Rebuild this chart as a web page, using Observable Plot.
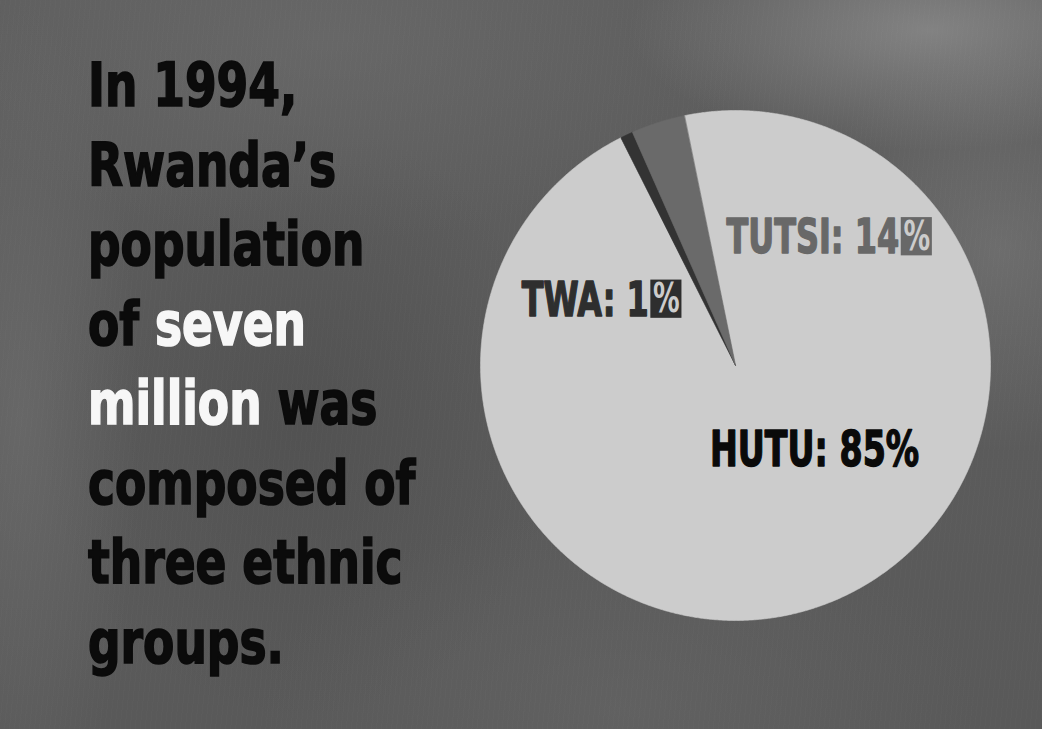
<!DOCTYPE html>
<html><head><meta charset="utf-8">
<script src="https://cdn.jsdelivr.net/npm/d3@7"></script>
<script src="https://cdn.jsdelivr.net/npm/@observablehq/plot@0.6"></script>
<style>
html,body{margin:0;padding:0;background:#5e5e5e;}
#wrap{position:relative;width:1042px;height:729px;overflow:hidden;
  background:
    radial-gradient(ellipse 300px 120px at 930px 30px, rgba(160,160,160,0.55), rgba(160,160,160,0) 100%),
    radial-gradient(ellipse 200px 200px at 1000px 250px, rgba(140,140,140,0.35), rgba(140,140,140,0) 100%),
    radial-gradient(ellipse 420px 200px at 330px 40px, rgba(120,120,120,0.35), rgba(120,120,120,0) 100%),
    radial-gradient(ellipse 120px 420px at 20px 420px, rgba(125,125,125,0.35), rgba(125,125,125,0) 100%),
    radial-gradient(ellipse 360px 200px at 620px 710px, rgba(115,115,115,0.3), rgba(115,115,115,0) 100%),
    radial-gradient(ellipse 260px 300px at 300px 420px, rgba(60,60,60,0.3), rgba(60,60,60,0) 100%),
    linear-gradient(#5e5e5e,#595959);}
#wrap::before{content:"";position:absolute;inset:0;
  background: repeating-linear-gradient(96deg, rgba(255,255,255,0.012) 0 1px, transparent 1px 5px);}
#chart{position:absolute;left:0;top:0;}
#intro{position:absolute;left:88px;top:45px;margin:0;transform:scaleX(0.83);transform-origin:0 0;
  font-family:"Liberation Sans Narrow","DejaVu Sans Condensed",sans-serif;
  font-weight:bold;font-size:61px;line-height:79.5px;color:#0b0b0b;white-space:nowrap;
  -webkit-text-stroke:1.6px #0b0b0b;}
#intro .hl{color:#f7f7f7;-webkit-text-stroke:1.6px #f7f7f7;}
</style></head>
<body>
<div id="wrap">
  <div id="chart"></div>
  <p id="intro">In 1994,<br>Rwanda’s<br>population<br>of <span class="hl">seven</span><br><span class="hl">million</span> was<br>composed of<br>three ethnic<br>groups.</p>
</div>
<script>
// ---- data ----
const groups = ["HUTU", "TWA", "TUTSI"];            // clockwise order in the drawing
const labelPercents = [85, 1, 14];                   // percentages printed on the labels
const drawnShares = [95.8, 0.8, 3.4];                // slice sizes as actually drawn in the picture
const startDegrees = -11.6;                          // where the first (HUTU) slice begins, clockwise from 12 o'clock

// ---- styles / layout (not data) ----
const sliceColor = {HUTU: "#cccccc", TWA: "#333333", TUTSI: "#6a6a6a"};
const labelColor = {HUTU: "#0a0a0a", TWA: "#2e2e2e", TUTSI: "#686868"};
const boxed = {HUTU: false, TWA: true, TUTSI: true};
// label anchor positions in pie-radius units (centre = 0,0; y down)
const labelLayout = {
  HUTU:  {x: -0.10, y: 0.33, anchor: "start"},
  TWA:   {x: -0.340, y: -0.255, anchor: "end"},
  TUTSI: {x: 0.642, y: -0.50, anchor: "end"}
};
const boxW = 0.122, boxH = 0.150;
const cx = 735, cy = 365, R = 255;
const labelSqueeze = 0.74;
const FONT = "'Liberation Sans Narrow','DejaVu Sans Condensed',sans-serif";

const rows = groups.map((g, i) => ({group: g, pct: labelPercents[i], share: drawnShares[i]}));
const a0 = startDegrees * Math.PI / 180;
const arcs = d3.pie().value(d => d.share).sort(null).startAngle(a0).endAngle(a0 + 2 * Math.PI)(rows);

function slicePoints(a) {
  const n = Math.max(2, Math.ceil((a.endAngle - a.startAngle) / 0.005));
  const pts = [{x: 0, y: 0}];
  for (let i = 0; i <= n; i++) {
    const t = a.startAngle + (a.endAngle - a.startAngle) * i / n;
    pts.push({x: Math.sin(t), y: -Math.cos(t)});
  }
  return pts;
}

const labels = rows.map(r => ({
  group: r.group,
  text: boxed[r.group] ? `${r.group}: ${r.pct}` : `${r.group}: ${r.pct}%`,
  x: labelLayout[r.group].x, y: labelLayout[r.group].y, anchor: labelLayout[r.group].anchor
}));
const boxes = labels.filter(l => boxed[l.group]).map(l => ({
  group: l.group, x1: l.x + 0.008, x2: l.x + 0.008 + boxW, y1: l.y - boxH / 2 - 0.005, y2: l.y + boxH / 2 - 0.005
}));

const marks = [
  ...arcs.map(a => Plot.line(slicePoints(a), {
    x: "x", y: "y", curve: "linear-closed",
    fill: sliceColor[a.data.group], stroke: sliceColor[a.data.group], strokeWidth: 0.6
  })),
  Plot.text(labels.filter(l => l.anchor === "start"), {
    x: "x", y: "y", text: "text", textAnchor: "start", lineAnchor: "middle",
    fill: d => labelColor[d.group], stroke: d => labelColor[d.group], strokeWidth: 1.4,
    fontSize: 50, fontWeight: "bold", fontFamily: FONT
  }),
  Plot.text(labels.filter(l => l.anchor === "end"), {
    x: "x", y: "y", text: "text", textAnchor: "end", lineAnchor: "middle",
    fill: d => labelColor[d.group], stroke: d => labelColor[d.group], strokeWidth: 1.4,
    fontSize: 48, fontWeight: "bold", fontFamily: FONT
  }),
  Plot.rect(boxes, {x1: "x1", x2: "x2", y1: "y1", y2: "y2", fill: d => labelColor[d.group]}),
  Plot.text(boxes, {
    x: d => (d.x1 + d.x2) / 2, y: d => (d.y1 + d.y2) / 2, text: () => "%",
    textAnchor: "middle", lineAnchor: "middle", fill: "#cccccc",
    fontSize: 40, fontWeight: "bold", fontFamily: FONT
  })
];

const chart = Plot.plot({
  width: 1042, height: 729, margin: 0,
  x: {domain: [-1, 1], range: [cx - R, cx + R], axis: null},
  y: {domain: [-1, 1], range: [cy - R, cy + R], axis: null},
  color: {type: "identity"},
  style: {background: "transparent", overflow: "visible"},
  marks
});
// condense the label lettering (the original uses a narrow display face)
d3.select(chart).selectAll('g[aria-label="text"] text').each(function () {
  const t = this.getAttribute("transform") || "";
  this.setAttribute("transform", `${t} scale(${labelSqueeze},1)`);
});
document.getElementById("chart").appendChild(chart);
</script>
</body></html>
